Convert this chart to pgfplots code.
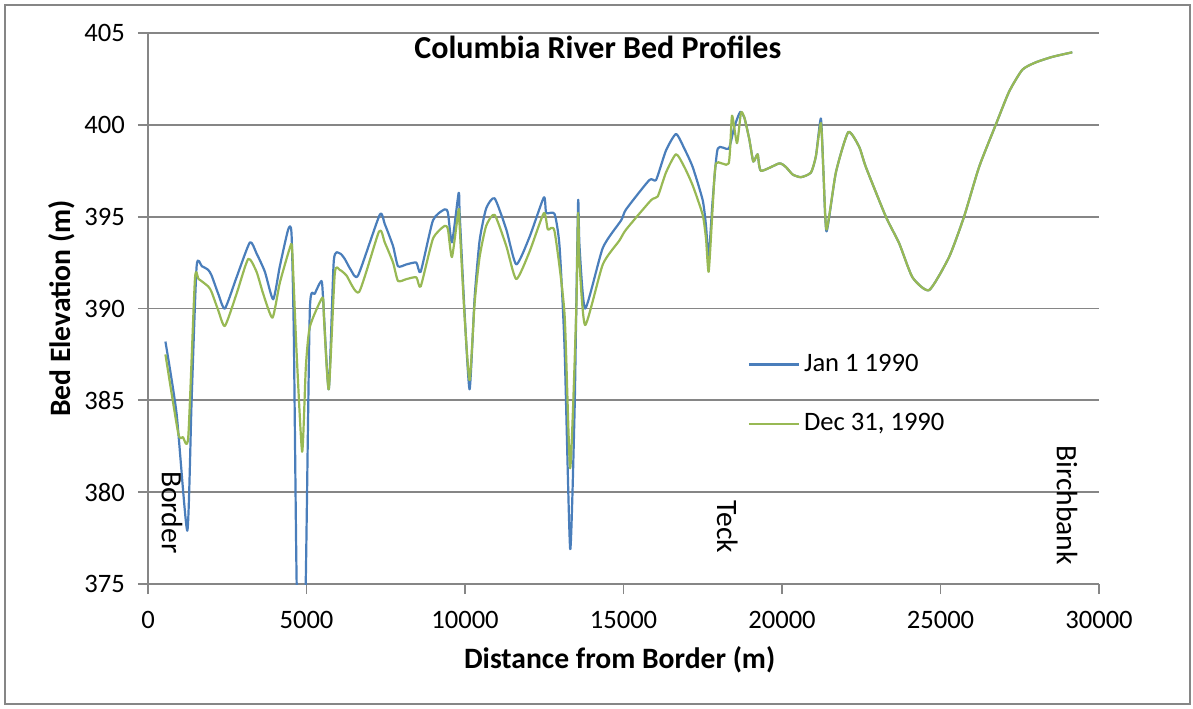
\documentclass[border=0pt]{standalone}
\usepackage{pgfplots}
\pgfplotsset{compat=1.18}
\usepackage{fontspec}
\setmainfont{Carlito}
\definecolor{sblue}{HTML}{4A7EBB}
\definecolor{sgreen}{HTML}{98B954}
\definecolor{gridc}{HTML}{868686}
\begin{document}
\begin{tikzpicture}
\useasboundingbox (-74pt,-62pt) rectangle (522.5pt,292pt);
\draw[gridc, line width=0.6pt] (-71.5pt,-60pt) rectangle (521pt,289.5pt);
\begin{axis}[
  at={(0pt,0pt)}, anchor=south west,
  scale only axis, width=475.5pt, height=275.5pt,
  xmin=0, xmax=30000, ymin=375, ymax=405,
  xtick={0,5000,...,30000}, ytick={375,380,...,405},
  scaled x ticks=false,
  /pgf/number format/assume math mode=true,
  /pgf/number format/1000 sep={},
  axis x line*=bottom, axis y line*=left,
  axis line style={gridc, line width=0.9pt, -},
  tick align=outside, major tick length=5pt,
  tick style={gridc, line width=0.9pt},
  ymajorgrids, grid style={gridc, line width=0.9pt},
  tick label style={font=\fontsize{13.3}{15}\selectfont, black},
  xticklabel style={yshift=-5pt},
  yticklabel style={xshift=-3pt},
  xlabel={\textbf{Distance from Border (m)}},
  ylabel={\textbf{Bed Elevation (m)}},
  label style={font=\fontsize{14.8}{17}\selectfont},
  xlabel style={at={(axis description cs:0.496,-0.138)}, anchor=center},
  ylabel style={at={(axis description cs:-0.0904,0.5)}, anchor=center},
  clip mode=individual,
  legend style={at={(axis description cs:0.624,0.432)}, anchor=north west, draw=none, fill=none,
    font=\fontsize{13.3}{15}\selectfont, row sep=15.5pt},
  legend cell align=left,
  legend image code/.code={\draw[#1] (0pt,0pt) -- (25pt,0pt);},
]
\addplot[sblue, line width=1.1pt, line join=round, smooth, tension=0.35] table {
x y
550 388.2
900 384.3
1240 377.9
1376 385.0
1534 392.3
1700 392.3
1901 392.1
2006 391.8
2216 390.8
2426 390.0
2794 391.7
3214 393.6
3424 393.0
3687 392.0
3949 390.5
4159 392.3
4422 394.3
4527 394.1
4600 388.6
4690 375
4830 366
4975 375
5105 389.9
5262 390.8
5473 391.5
5525 390.5
5703 385.6
5861 392.6
6050 393.0
6207 392.7
6400 392.1
6627 391.8
7310 395.1
7468 394.6
7730 393.4
7887 392.3
8150 392.4
8465 392.5
8602 392.0
8990 394.8
9358 395.4
9463 395.2
9589 393.6
9800 396.3
9831 395.2
9989 389.7
10146 385.6
10304 390.6
10461 393.7
10668 395.45
10934 396.0
11303 394.3
11617 392.4
12037 393.9
12488 396.05
12563 395.2
12825 395.15
12982 393.4
13140 387.9
13318 376.9
13455 384.3
13507 389.7
13570 395.9
13612 393.4
13791 390.0
14347 393.3
14925 394.8
15082 395.4
15818 397.0
16028 397.0
16339 398.6
16657 399.5
16921 398.7
17183 397.7
17498 395.9
17603 394.5
17687 392.8
17813 395.9
17971 398.7
18318 398.7
18497 399.9
18680 400.7
18812 400.4
18970 399.2
19095 398.0
19231 398.4
19336 397.5
19914 397.9
20124 397.7
20334 397.3
20597 397.15
20912 397.4
21070 398.3
21227 400.35
21308 397.4
21405 394.2
21699 397.4
22089 399.6
22435 398.8
22646 397.7
23276 395.0
23696 393.55
24115 391.7
24640 391.0
25270 392.8
25743 395.0
26216 397.7
26742 400.0
27162 401.8
27582 403.0
28002 403.4
28527 403.7
29157 403.95
};
\addlegendentry{Jan 1 1990}
\addplot[sgreen, line width=1.1pt, line join=round, smooth, tension=0.35] table {
x y
550 387.5
955 383.2
1100 383.0
1270 383.0
1481 391.6
1600 391.6
1901 391.2
2006 390.9
2216 389.9
2426 389.05
2794 390.8
3161 392.7
3424 392.0
3634 390.8
3927 389.5
4159 391.4
4475 393.3
4548 393.2
4685 387.7
4863 382.2
4979 386.8
5105 389.0
5504 390.6
5550 389.5
5703 385.6
5892 391.9
6050 392.1
6260 391.8
6659 390.9
7290 394.2
7468 393.6
7730 392.5
7887 391.5
8150 391.6
8465 391.7
8602 391.2
8990 393.8
9358 394.5
9463 394.3
9589 392.8
9800 395.4
9831 394.5
9989 389.5
10146 386.1
10304 390.3
10461 392.8
10668 394.5
10934 395.1
11303 393.4
11617 391.6
12037 393.1
12488 395.2
12614 394.3
12825 394.2
13140 389.7
13318 381.3
13507 389.7
13570 395.2
13612 392.5
13791 389.1
14347 392.4
14870 393.7
15082 394.3
15870 395.9
16080 396.1
16339 397.4
16657 398.4
16921 397.7
17183 396.7
17498 395.1
17603 393.8
17687 392.0
17813 395.5
17918 397.9
18318 397.9
18423 400.5
18580 399.0
18706 400.66
18812 400.4
18970 399.2
19095 398.0
19231 398.4
19336 397.5
19914 397.9
20124 397.7
20334 397.3
20597 397.15
20912 397.4
21070 398.3
21227 400.1
21308 397.4
21405 394.3
21699 397.4
22089 399.6
22435 398.8
22646 397.7
23276 395.0
23696 393.55
24115 391.7
24640 391.0
25270 392.8
25743 395.0
26216 397.7
26742 400.0
27162 401.8
27582 403.0
28002 403.4
28527 403.7
29157 403.95
};
\addlegendentry{Dec 31, 1990}
\node[font=\fontsize{16}{19}\selectfont\bfseries] at (rel axis cs:0.473,0.9746) {Columbia River Bed Profiles};
\node[rotate=-90, font=\fontsize{14.8}{17}\selectfont] at (axis cs:756,378.9) {Border};
\node[rotate=-90, font=\fontsize{14.8}{17}\selectfont] at (axis cs:18276,378.1) {Teck};
\node[rotate=-90, font=\fontsize{14.8}{17}\selectfont] at (axis cs:28990,379.3) {Birchbank};
\end{axis}
\end{tikzpicture}
\end{document}
